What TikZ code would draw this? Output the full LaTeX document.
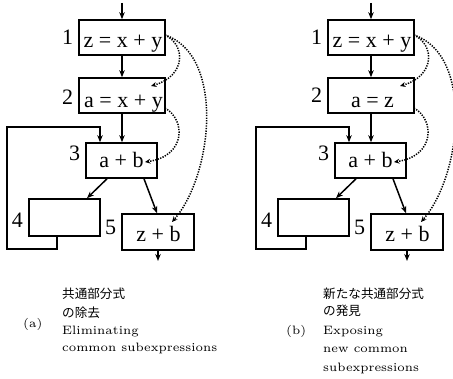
\documentclass[tikz,border=0pt]{standalone}
\usepackage{fontspec}
\newfontfamily\jpfont{Noto Sans CJK JP}
\newfontfamily\blkfont{Liberation Serif}
\usetikzlibrary{arrows.meta}

% caption helpers: small optical size of Latin Modern, enlarged
\newcommand\captext[1]{\scalebox{2.03}{\fontsize{6}{7}\selectfont #1}}
\newcommand\jptext[1]{{\jpfont\fontsize{12.6}{14}\selectfont #1}}

\tikzset{
  blk/.style={draw, line width=1.6pt, inner sep=0pt},
  txt/.style={inner sep=0pt, font=\blkfont\fontsize{22}{26}\selectfont},
  captionline/.style={inner sep=0pt, anchor=base west},
  flow/.style={line width=1.5pt, -{Stealth[length=7pt,width=5.5pt]}},
  loopline/.style={line width=1.3pt, -{Stealth[length=7pt,width=5.5pt]}},
  dep/.style={line width=1.5pt, dash pattern=on 1.3pt off 1.3pt,
    -{Stealth[length=5.5pt,width=5pt,sep=0pt]}},
}

% one flow graph: #1 name prefix, #2 horizontal offset, #3 statement of block 2
\newcommand\flowgraph[3]{%
\begin{scope}[xshift=#2]
  % blocks
  \node[blk, minimum width=86pt, minimum height=35pt] (#1b1) at (122,37.5) {};
  \node[blk, minimum width=86pt, minimum height=35pt] (#1b2) at (122,95.5) {};
  \node[blk, minimum width=71pt, minimum height=35pt] (#1b3) at (121.5,160.5) {};
  \node[blk, minimum width=71pt, minimum height=37pt] (#1b4) at (64.5,217.5) {};
  \node[blk, minimum width=72pt, minimum height=36pt] (#1b5) at (158,232) {};
  % statements
  \node[txt, anchor=base] (#1t1) at (123,48) {z = x + y};
  \node[txt, anchor=base] (#1t2) at (123.5,108) {#3};
  \node[txt, anchor=base] (#1t3) at (121.5,168) {a + b};
  \coordinate (#1t4) at (64.5,228);
  \node[txt, anchor=base] (#1t5) at (158.5,242) {z + b};
  % block numbers
  \foreach \k in {1,...,5}
    \node[txt, anchor=base east, xshift=-5pt] (#1n\k) at (#1b\k.west |- #1t\k) {\k};
  % control flow
  \coordinate (#1in) at (122,3);
  \coordinate (#1out) at (158,261);
  \draw[flow] (#1in) -- (#1b1);
  \draw[flow] (#1b1) -- (#1b2);
  \draw[flow] (#1b2.south) -- (#1b2.south |- #1b3.north);
  \draw[flow] ([xshift=-14.5pt]#1b3.south) -- ([xshift=22.5pt]#1b4.north);
  \draw[flow] ([xshift=22.5pt]#1b3.south) -- ([xshift=-1pt]#1b5.north);
  \draw[flow] (#1b5) -- (#1out);
  % back edge from block 4 to block 3
  \coordinate (#1c1) at (7,249);
  \coordinate (#1c2) at (7,127);
  \draw[loopline] ([xshift=-7.5pt]#1b4.south) |- (#1c1) -- (#1c2) -| ([xshift=-21.5pt]#1b3.north);
  % value dependences
  \coordinate (#1s1) at (165,35);
  \coordinate (#1e1) at (151,86);
  \coordinate (#1e5) at (172,222);
  \coordinate (#1s2) at (165,108);
  \coordinate (#1e3) at (145,162);
  \draw[dep] (#1s1) .. controls (186,45) and (186,76) .. (#1e1);
  \draw[dep] (#1s1) .. controls (225,55) and (213,175) .. (#1e5);
  \draw[dep] (#1s2) .. controls (186,120) and (186,156) .. (#1e3);
\end{scope}}

\begin{document}
\begin{tikzpicture}[x=1pt,y=-1pt]
  \useasboundingbox (0,0) rectangle (453,379);
  \flowgraph{a}{0}{a = x + y}
  \flowgraph{b}{249}{a = z}

  % captions
  \node[captionline] (acap1) at (62,299) {\jptext{共通部分式}};
  \node[captionline] (acap2) at (62,318) {\jptext{の除去}};
  \node[captionline] (acap3) at (62,335) {\captext{Eliminating}};
  \node[captionline] (acap4) at (62,352) {\captext{common subexpressions}};
  \node[captionline] (alab) at (23,328) {\captext{(a)}};

  \node[captionline] (bcap1) at (323,299) {\jptext{新たな共通部分式}};
  \node[captionline] (bcap2) at (323,316) {\jptext{の発見}};
  \node[captionline] (bcap3) at (323,335) {\captext{Exposing}};
  \node[captionline] (bcap4) at (323,353) {\captext{new common}};
  \node[captionline] (bcap5) at (323,372) {\captext{subexpressions}};
  \node[captionline] (blab) at (286,335) {\captext{(b)}};
\end{tikzpicture}
\end{document}
